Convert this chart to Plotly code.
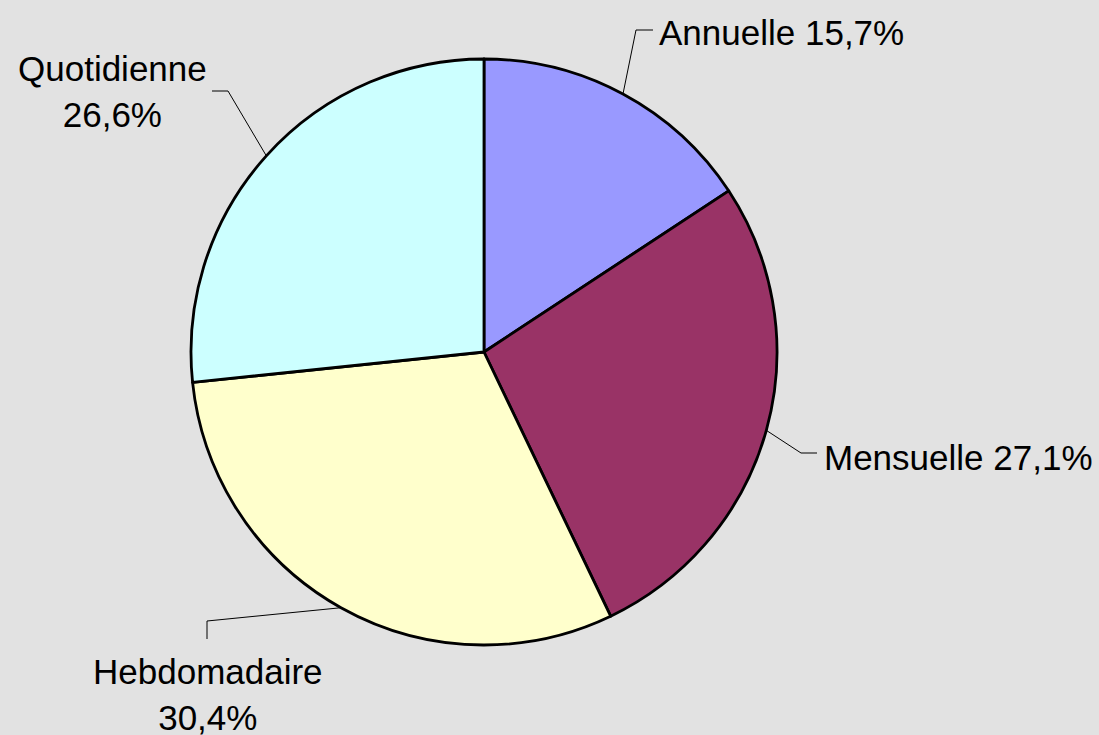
import math
import plotly.graph_objects as go

# ---- data ----
categories = ["Annuelle", "Mensuelle", "Hebdomadaire", "Quotidienne"]
values = [15.7, 27.1, 30.4, 26.6]
label_texts = ["Annuelle 15,7%", "Mensuelle 27,1%", "Hebdomadaire<br>30,4%", "Quotidienne<br>26,6%"]
colors = ["#9999FF", "#993366", "#FFFFCC", "#CCFFFF"]

# ---- layout (pixels) ----
W, H = 1099, 735
cx, cy, r = 484, 352, 293
# label anchors (x, y, xanchor) and leader elbows (pixels)
label_pos = [(657, 32, "left"), (822, 458, "left"), (208, 694, "center"), (112, 92, "center")]
elbows = [((636, 30), (653, 30)), ((801, 453), (817, 453)), ((207, 621), (207, 639)), ((228, 91), (212, 91))]

def px(x):
    return x / W

def py(y):
    return 1 - y / H

fig = go.Figure(go.Pie(
    labels=categories, values=values, sort=False, direction="clockwise", rotation=0,
    marker=dict(colors=colors, line=dict(color="black", width=2.8)),
    textinfo="none", hoverinfo="label+percent", showlegend=False,
    domain=dict(x=[px(cx - r), px(cx + r)], y=[py(cy + r), py(cy - r)]),
))

total = sum(values)
cum = 0
shapes = []
annotations = []
for i, v in enumerate(values):
    mid = (cum + v / 2) / total * 2 * math.pi
    cum += v
    sx = cx + r * math.sin(mid)
    sy = cy - r * math.cos(mid)
    (e1, e2) = elbows[i]
    path = f"M {px(sx)},{py(sy)} L {px(e1[0])},{py(e1[1])} L {px(e2[0])},{py(e2[1])}"
    shapes.append(dict(type="path", xref="paper", yref="paper", path=path,
                       line=dict(color="black", width=1)))
    lx, ly, anc = label_pos[i]
    annotations.append(dict(x=px(lx), y=py(ly), xref="paper", yref="paper",
                            text=label_texts[i], showarrow=False, xanchor=anc, yanchor="middle",
                            align="center",
                            font=dict(family="Liberation Sans, Arial, sans-serif", size=35, color="black")))

fig.update_layout(
    width=W, height=H, margin=dict(l=0, r=0, t=0, b=0),
    paper_bgcolor="#e2e2e2", plot_bgcolor="#e2e2e2",
    shapes=shapes, annotations=annotations,
)
fig.write_html("out.html", config={"displayModeBar": False},
               post_script="document.body.style.margin='0';document.body.style.overflow='hidden';")
